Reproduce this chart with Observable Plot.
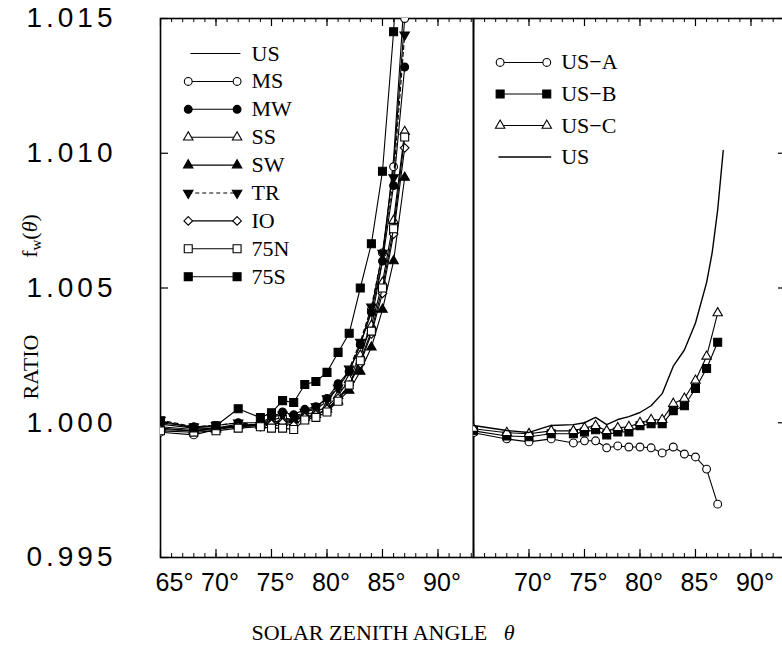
<!DOCTYPE html>
<html><head><meta charset="utf-8">
<script src="https://cdn.jsdelivr.net/npm/d3@7"></script>
<script src="https://cdn.jsdelivr.net/npm/@observablehq/plot@0.6"></script>
<style>
html,body{margin:0;padding:0;overflow:hidden;background:#fff;width:782px;height:653px}
#wrap{position:relative;width:782px;height:653px;overflow:hidden;background:#fff}
.panel{position:absolute;top:0}
.ttl{position:absolute;font-family:"Liberation Serif","Times New Roman",serif;font-size:22px;color:#000;white-space:nowrap;line-height:1}
</style></head><body><div id="wrap"></div><script>
// ---------- data ----------
const angles = [65,68,70,72,74,75,76,77,78,79,80,81,82,83,84,85,86,87];
// left panel
const US  = [0.99995,0.9998,0.9998,0.99995,0.9999,1.0000,1.0001,1.0001,1.0002,1.0003,1.0005,1.0009,1.0014,1.0024,1.0038,1.0060,1.0098,1.0160];
const MS  = [0.99965,0.99955,0.99975,0.99985,0.9999,1.0001,1.0002,1.0001,1.0004,1.0005,1.0008,1.0013,1.0019,1.0029,1.0042,1.0063,1.0095,1.0150];
const MW  = [1.0000,0.99985,0.9999,1.0000,1.0000,1.0002,1.0004,1.0003,1.0005,1.0006,1.0009,1.00145,1.0019,1.0029,1.0041,1.0060,1.0088,1.0132];
const SS  = [0.9998,0.9997,0.99975,0.9999,0.99995,1.0000,1.0001,1.0001,1.0003,1.0004,1.0006,1.0010,1.0016,1.0025,1.0036,1.0052,1.0075,1.0108];
const SW  = [0.99985,0.99975,0.9998,0.9999,0.9999,1.0000,1.0000,1.0001,1.0002,1.0003,1.0005,1.0008,1.0012,1.0019,1.0028,1.0042,1.0060,1.0091];
const TR  = [1.0001,0.99985,0.9999,1.0000,0.9999,1.0002,1.0003,1.0002,1.0004,1.0006,1.0009,1.0013,1.0020,1.0030,1.0043,1.0063,1.0091,1.0144];
const IO  = [0.99975,0.9997,0.9998,0.99985,0.9999,0.99995,1.0000,0.9999,1.0002,1.0003,1.0005,1.0009,1.0014,1.0022,1.0033,1.0048,1.0070,1.0102];
const N75 = [0.9997,0.99965,0.9997,0.9998,0.99985,0.9998,0.9998,0.99975,1.0001,1.0002,1.0004,1.0008,1.0014,1.0023,1.0034,1.0050,1.0072,1.0106];
const S75 = [1.00007,0.99981,0.99989,1.00052,1.00019,1.00037,1.00082,1.00075,1.00142,1.00153,1.00187,1.00261,1.00332,1.0050,1.00664,1.00933,1.01451,1.0215];
// right panel
const US_A = [0.99963,0.9994,0.99929,0.9994,0.99925,0.99933,0.99933,0.99907,0.99914,0.9991,0.9991,0.99907,0.99888,0.9991,0.99884,0.99873,0.99828,0.99698];
const US_B = [0.9997,0.99951,0.99948,0.99959,0.99959,0.99966,0.99974,0.99955,0.99966,0.99966,0.99989,0.99996,0.99996,1.00045,1.00063,1.00127,1.00201,1.00299];
const US_C = [0.99978,0.99963,0.99959,0.9997,0.9997,0.99981,0.99989,0.9997,0.99981,0.99985,1.0000,1.00011,1.00011,1.00071,1.0009,1.00157,1.00246,1.00407];
const usRAngles = [65,68,70,72,74,75,76,77,78,79,80,81,82,83,84,85,86,86.5,87,87.5];
const US_R = [0.9999,0.99971,0.99964,0.9999,0.99993,1.0000,1.0002,0.99993,1.00012,1.00023,1.00038,1.00063,1.00108,1.0021,1.0027,1.0037,1.0052,1.0063,1.0079,1.0101];
// ticks
const yTicks = [0.995,1.000,1.005,1.010,1.015];
const xMajor = [65,70,75,80,85,90];
const xMinor = d3.range(65,94,1);
const leftXLabels = [70,75,80,85,90];
const rightXLabels = [70,75,80,85,90];

// ---------- styling / layout ----------
const triDown = {draw(ctx,size){const s3=Math.sqrt(3);const y=-Math.sqrt(size/(s3*3));ctx.moveTo(0,-y*2);ctx.lineTo(-s3*y,y);ctx.lineTo(s3*y,y);ctx.closePath();}};
const SYM = {
  circle:{symbol:"circle",r:3.9}, square:{symbol:"square",r:4.5},
  triangle:{symbol:"triangle",r:3.5}, tridown:{symbol:triDown,r:3.5}, diamond:{symbol:"diamond2",r:3.9}
};
const leftSeries = [
  {name:"US", v:US, sym:null},
  {name:"MS", v:MS, sym:"circle", filled:false},
  {name:"MW", v:MW, sym:"circle", filled:true},
  {name:"SS", v:SS, sym:"triangle", filled:false},
  {name:"SW", v:SW, sym:"triangle", filled:true},
  {name:"TR", v:TR, sym:"tridown", filled:true, dash:"4,3"},
  {name:"IO", v:IO, sym:"diamond", filled:false},
  {name:"75N", v:N75, sym:"square", filled:false},
  {name:"75S", v:S75, sym:"square", filled:true}
];
const rightSeries = [
  {name:"US\u2212A", v:US_A, sym:"circle", filled:false},
  {name:"US\u2212B", v:US_B, sym:"square", filled:true},
  {name:"US\u2212C", v:US_C, sym:"triangle", filled:false},
  {name:"US", v:US_R, x:usRAngles, sym:null, lw:1.4}
];
const X_DOMAIN=[65,93.2], Y_DOMAIN=[0.995,1.015];
const H=600, MT=18, MB=43, PH=H-MT-MB, PW=313;
const SERIF="Liberation Serif, Times New Roman, serif";
const SANS="Liberation Sans, Arial, Helvetica, sans-serif";

function seriesMarks(list, leg){
  const marks=[];
  list.forEach((s,i)=>{
    const xs = s.x || angles;
    const rows = s.v.map((v,k)=>({a:xs[k], v}));
    marks.push(Plot.line(rows,{x:"a",y:"v",stroke:"black",strokeWidth:s.lw||1.1,strokeDasharray:s.dash,clip:true}));
    if(s.sym){
      const o=SYM[s.sym];
      marks.push(Plot.dot(rows,{x:"a",y:"v",symbol:o.symbol,r:o.r,fill:s.filled?"black":"white",stroke:"black",strokeWidth:1.1,clip:true}));
    }
    // legend entry
    const ly = leg.y0 - i*leg.dy;
    const seg=[{x1:s.sym?leg.x1:leg.lx1,x2:s.sym?leg.x2:leg.lx2,y:ly}];
    marks.push(Plot.link(seg,{x1:"x1",x2:"x2",y1:"y",y2:"y",stroke:"black",strokeWidth:s.lw||1.1,strokeDasharray:s.dash}));
    if(s.sym){
      const o=SYM[s.sym];
      marks.push(Plot.dot([{x:leg.x1,y:ly},{x:leg.x2,y:ly}],{x:"x",y:"y",symbol:o.symbol,r:o.r,fill:s.filled?"black":"white",stroke:"black",strokeWidth:1.1}));
    }
    marks.push(Plot.text([s.name],{x:leg.tx,y:ly,text:d=>d,textAnchor:"start",fontFamily:SERIF,fontSize:22,fill:"black"}));
  });
  return marks;
}

function frameMarks(labels, side){
  const m=[
    Plot.frame({stroke:"black",strokeWidth:1.6}),
    Plot.tickX(xMinor,{x:d=>d,insetTop:PH-4,stroke:"black",strokeWidth:1}),
    Plot.tickX(xMajor,{x:d=>d,insetTop:PH-8,stroke:"black",strokeWidth:1.2}),
    Plot.tickX(xMinor,{x:d=>d,insetBottom:PH-4,stroke:"black",strokeWidth:1}),
    Plot.tickX(xMajor,{x:d=>d,insetBottom:PH-8,stroke:"black",strokeWidth:1.2}),
    Plot.text(labels,{x:d=>d,text:d=>d+"\u00b0",frameAnchor:"bottom",dy:25,dx:4,fontFamily:SANS,fontSize:25,fill:"black",lineAnchor:"middle"})
  ];
  if(side==="left"){
    m.push(Plot.tickY(yTicks,{y:d=>d,insetRight:PW-8,stroke:"black",strokeWidth:1.2}));
    m.push(Plot.text(yTicks,{y:d=>d,text:d=>d.toFixed(3),frameAnchor:"left",dx:-44,textAnchor:"end",fontFamily:SANS,fontSize:28,fill:"black"}));
    m.push(Plot.text([65],{x:d=>d,text:d=>d+"\u00b0",frameAnchor:"bottom",dy:25,dx:14,fontFamily:SANS,fontSize:25,fill:"black",lineAnchor:"middle"}));
  } else {
    m.push(Plot.tickY(yTicks,{y:d=>d,insetLeft:PW-8,stroke:"black",strokeWidth:1.2}));
  }
  return m;
}

function makePlot(width, ml, mr, marks){
  return Plot.plot({width,height:H,marginTop:MT,marginBottom:MB,marginLeft:ml,marginRight:mr,
    x:{domain:X_DOMAIN,axis:null}, y:{domain:Y_DOMAIN,axis:null},
    style:{background:"none",overflow:"visible"}, marks});
}

const left = makePlot(474,160,1,[
  ...frameMarks(leftXLabels,"left"),
  ...seriesMarks(leftSeries,{y0:1.0137,dy:0.001035,x1:67.5,x2:71.9,lx1:67.7,lx2:72.2,tx:73.2})
]);
const right = makePlot(316,1,2,[
  ...frameMarks(rightXLabels,"right"),
  ...seriesMarks(rightSeries,{y0:1.01337,dy:0.00117,x1:67.4,x2:71.6,lx1:67.25,lx2:72.0,tx:72.9})
]);
// widen the spacing of the y tick labels, as in the original
d3.select(left).selectAll("text").filter(function(){return /^[01]\.\d{3}$/.test(this.textContent);})
  .attr("letter-spacing","4px").style("letter-spacing","4px");

const wrap=document.getElementById("wrap");
left.classList.add("panel"); left.style.left="0px";
right.classList.add("panel"); right.style.left="472px";
wrap.appendChild(left); wrap.appendChild(right);

function title(html, x, y, rot){
  const d=document.createElement("div");
  d.className="ttl"; d.innerHTML=html;
  d.style.left=x+"px"; d.style.top=y+"px";
  d.style.transform="translate(-50%,-50%)"+(rot?" rotate(-90deg)":"");
  wrap.appendChild(d);
}
title('RATIO', 31, 367, true);
title('f<sub style="font-size:15px;vertical-align:-4px">w</sub>(<i>\u03b8</i>)', 31, 236, true);
title('SOLAR ZENITH ANGLE&nbsp;&nbsp;&nbsp;<i>\u03b8</i>', 383, 633, false);
</script></body></html>
